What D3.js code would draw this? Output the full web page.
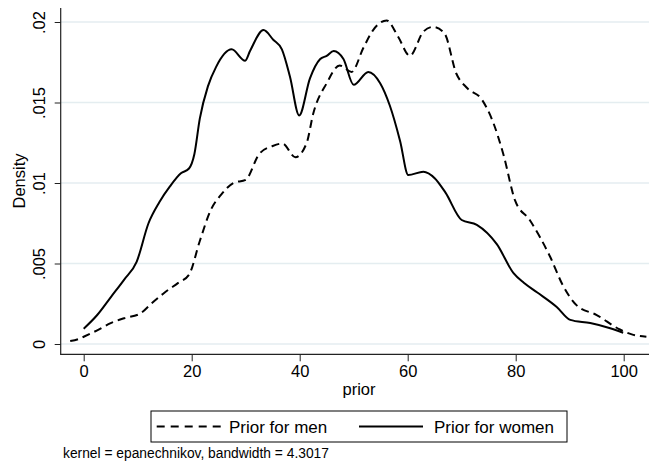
<!DOCTYPE html>
<html>
<head>
<meta charset="utf-8">
<script src="https://cdn.jsdelivr.net/npm/d3@7"></script>
<style>
  html, body { margin: 0; padding: 0; background: #fff; }
  svg { display: block; font-family: "Liberation Sans", Arial, sans-serif; }
</style>
</head>
<body>
<svg id="chart" width="649" height="469"></svg>
<script>
// Kernel density estimates of "prior", by sex (x = prior, y = density)
const menX = [-2.5, -1, 0, 2.5, 5, 7.5, 10.5, 12.5, 15, 17.5, 19.5, 21.5, 23.5, 25.5, 27.7, 30, 32.5, 35, 36.8, 39.2, 41.3, 42.5, 45, 47.4, 49.6, 51.8, 53.6, 56.1, 58.2, 60.4, 62.9, 64.7, 66.8, 69, 71, 73.7, 75.9, 77.7, 79.9, 82.6, 86.4, 88.8, 91.3, 95, 99.3, 101.5, 104.2];
const menY = [0.00018, 0.0003, 0.00045, 0.00085, 0.0013, 0.0016, 0.0019, 0.0025, 0.0032, 0.0038, 0.0043, 0.0064, 0.0083, 0.0093, 0.0100, 0.0102, 0.0118, 0.0123, 0.01245, 0.0116, 0.0125, 0.0143, 0.0162, 0.0173, 0.0169, 0.0184, 0.0195, 0.0201, 0.0191, 0.0179, 0.0194, 0.0197, 0.0193, 0.0168, 0.0159, 0.0152, 0.0137, 0.0118, 0.0089, 0.0077, 0.0054, 0.0036, 0.0024, 0.0018, 0.0009, 0.0006, 0.00045];

const womenX = [0, 2.5, 5, 7.5, 9.8, 12, 14, 16, 18, 19.5, 20.5, 21.5, 23, 24.5, 27.4, 29.9, 30.8, 33.3, 35.1, 36.7, 38.2, 39.9, 41.9, 43.8, 45, 46.3, 48.1, 50, 52.7, 54.9, 56.7, 58.6, 60.1, 62.9, 65, 67, 70, 72.8, 76.5, 79.6, 81.5, 84, 87.6, 90.1, 93.8, 97.5, 99.9];
const womenY = [0.00095, 0.0018, 0.0029, 0.0040, 0.0051, 0.0075, 0.0088, 0.0098, 0.0106, 0.0109, 0.0118, 0.0140, 0.0160, 0.0172, 0.0183, 0.0176, 0.0182, 0.0195, 0.0189, 0.0183, 0.0166, 0.0142, 0.0165, 0.0177, 0.0179, 0.0182, 0.0177, 0.0161, 0.0169, 0.0162, 0.0148, 0.0126, 0.0105, 0.0107, 0.0103, 0.0094, 0.0077, 0.0074, 0.0062, 0.0044, 0.0038, 0.0032, 0.0023, 0.0015, 0.0013, 0.00098, 0.0007];

const xTicks = [0, 20, 40, 60, 80, 100];
const yTicks = [0, 0.005, 0.01, 0.015, 0.02];
const yTickLabels = ["0", ".005", ".01", ".015", ".02"];
const seriesNames = ["Prior for men", "Prior for women"];
const xTitle = "prior";
const yTitle = "Density";
const note = "kernel = epanechnikov, bandwidth = 4.3017";

const svg = d3.select("#chart");

// plot region edges
const plotLeft = 60.7, plotRight = 649, plotTop = 8, plotBottom = 354.3;
const x = d3.scaleLinear().domain([0, 100]).range([83.7, 623.7]);
const y = d3.scaleLinear().domain([0, 0.02]).range([344, 22]);

// gridlines
svg.append("g")
  .selectAll("line")
  .data(yTicks)
  .join("line")
  .attr("x1", plotLeft).attr("x2", plotRight)
  .attr("y1", d => y(d)).attr("y2", d => y(d))
  .attr("stroke", "#e4edf0")
  .attr("stroke-width", 1.3);

// axes
const xAxis = d3.axisBottom(x).tickValues(xTicks).tickSize(7).tickPadding(4).tickFormat(d3.format("d"));
const gx = svg.append("g").attr("transform", `translate(0,${plotBottom})`).call(xAxis);
gx.select(".domain").remove();
gx.selectAll("text").attr("font-size", 16.5).attr("fill", "#000").attr("font-family", "Liberation Sans, Arial, sans-serif");
gx.selectAll("line").attr("stroke", "#222");

const yAxis = d3.axisLeft(y).tickValues(yTicks).tickSize(6).tickFormat((d, i) => yTickLabels[i]);
const gy = svg.append("g").attr("transform", `translate(${plotLeft},0)`).call(yAxis);
gy.select(".domain").remove();
gy.selectAll("line").attr("stroke", "#222");
gy.selectAll("text")
  .attr("font-size", 16.5).attr("fill", "#000").attr("font-family", "Liberation Sans, Arial, sans-serif")
  .attr("text-anchor", "middle").attr("dy", null).attr("x", null)
  .attr("transform", "translate(-15.7,0) rotate(-90)");

svg.append("line").attr("x1", plotLeft).attr("x2", plotLeft).attr("y1", plotTop).attr("y2", plotBottom + 0.5)
  .attr("stroke", "#222").attr("stroke-width", 1.2);
svg.append("line").attr("x1", plotLeft - 0.5).attr("x2", plotRight).attr("y1", plotBottom).attr("y2", plotBottom)
  .attr("stroke", "#222").attr("stroke-width", 1.2);

// axis titles
svg.append("text").attr("x", 359).attr("y", 395).attr("text-anchor", "middle")
  .attr("font-size", 16.5).text(xTitle);
svg.append("text").attr("transform", "translate(25,181) rotate(-90)").attr("text-anchor", "middle")
  .attr("font-size", 16.5).text(yTitle);

// density curves
const line = d3.line().x(d => x(d[0])).y(d => y(d[1])).curve(d3.curveMonotoneX);
const men = menX.map((v, i) => [v, menY[i]]);
const women = womenX.map((v, i) => [v, womenY[i]]);

svg.append("path").datum(men).attr("d", line)
  .attr("fill", "none").attr("stroke", "#000").attr("stroke-width", 2)
  .attr("stroke-dasharray", "8,5");
svg.append("path").datum(women).attr("d", line)
  .attr("fill", "none").attr("stroke", "#000").attr("stroke-width", 2);

// legend
const lg = svg.append("g");
lg.append("rect").attr("x", 151).attr("y", 411).attr("width", 416).attr("height", 31)
  .attr("fill", "#fff").attr("stroke", "#000").attr("stroke-width", 1);
lg.append("line").attr("x1", 156.7).attr("x2", 221).attr("y1", 426.5).attr("y2", 426.5)
  .attr("stroke", "#000").attr("stroke-width", 2).attr("stroke-dasharray", "8,6");
lg.append("text").attr("x", 229).attr("y", 433).attr("font-size", 17).text(seriesNames[0]);
lg.append("line").attr("x1", 359).attr("x2", 423).attr("y1", 426.5).attr("y2", 426.5)
  .attr("stroke", "#000").attr("stroke-width", 2);
lg.append("text").attr("x", 434).attr("y", 433).attr("font-size", 17).text(seriesNames[1]);

// note
svg.append("text").attr("x", 63).attr("y", 458).attr("font-size", 13.8).text(note);
</script>
</body>
</html>
